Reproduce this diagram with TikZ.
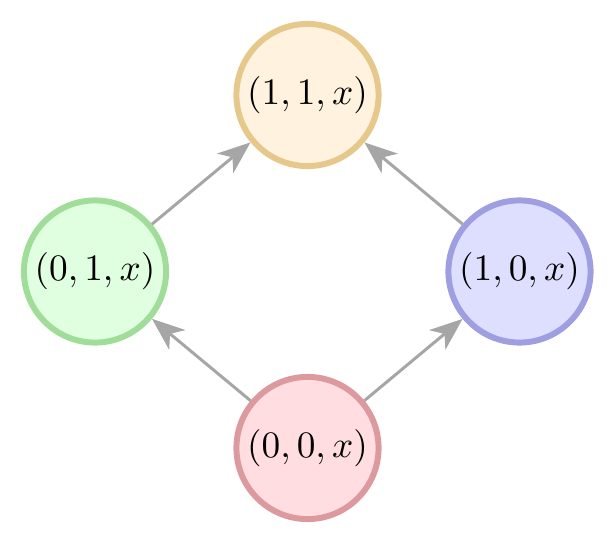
\documentclass[tikz,border=0pt]{standalone}
\usetikzlibrary{arrows.meta}
\definecolor{topfill}{HTML}{FFF2DE}
\definecolor{topdraw}{HTML}{E6C88A}
\definecolor{lfill}{HTML}{E0FFE0}
\definecolor{ldraw}{HTML}{A0DD98}
\definecolor{rfill}{HTML}{DEDEFF}
\definecolor{rdraw}{HTML}{9E9EE0}
\definecolor{bfill}{HTML}{FFDDE0}
\definecolor{bdraw}{HTML}{DD9A9E}
\definecolor{arrgray}{HTML}{A6A6A6}
\begin{document}
\begin{tikzpicture}[x=0.268pt,y=-0.268pt,
  state/.style={circle,inner sep=0pt,minimum size=38.1pt,line width=1.6pt},
  conn/.style={draw=arrgray,line width=0.8pt,-{Stealth[length=8.8pt,width=6.8pt,inset=2.5pt]}}]
\useasboundingbox (0,0) rectangle (615,544);
\node[state,draw=topdraw,fill=topfill] (t) at (307.5,95) {$(1,1,x)$};
\node[state,draw=ldraw,fill=lfill] (l) at (95,271.5) {$(0,1,x)$};
\node[state,draw=rdraw,fill=rfill] (r) at (519.5,271.5) {$(1,0,x)$};
\node[state,draw=bdraw,fill=bfill] (b) at (307.5,448) {$(0,0,x)$};
\draw[conn] (l) -- (t);
\draw[conn] (r) -- (t);
\draw[conn] (b) -- (l);
\draw[conn] (b) -- (r);
\end{tikzpicture}
\end{document}
